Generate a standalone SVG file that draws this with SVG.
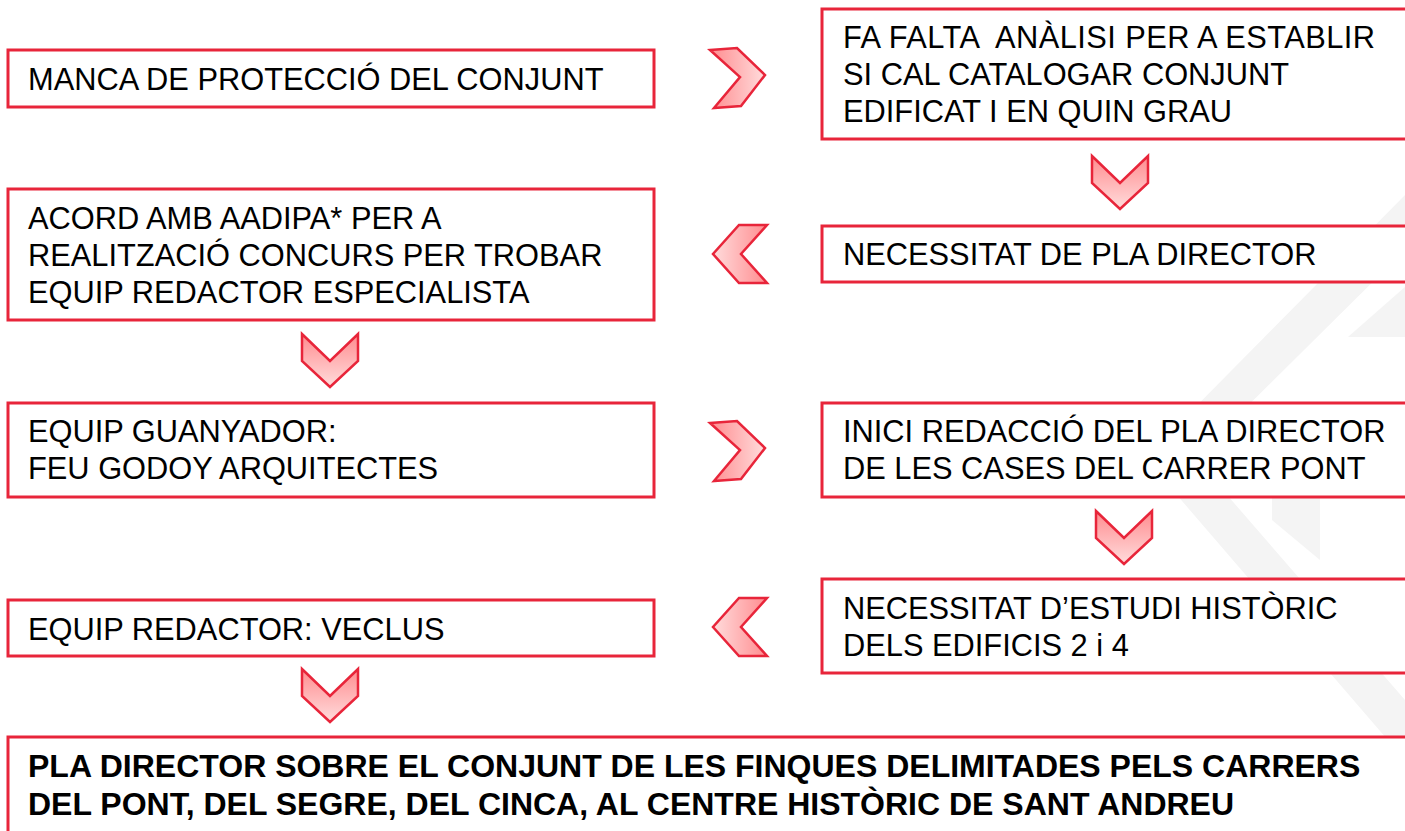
<svg xmlns="http://www.w3.org/2000/svg" width="1405" height="831" viewBox="0 0 1405 831">
<style>
.box{fill:#ffffff;stroke:#e8253a;stroke-width:3}
.t{font-family:"Liberation Sans",Arial,sans-serif;font-size:30.8px;fill:#000}
.b{font-family:"Liberation Sans",Arial,sans-serif;font-size:32px;font-weight:bold;fill:#000}
.chev{stroke:#e8253a;stroke-width:2.5;stroke-linejoin:miter}
.wm{fill:#f4f4f4}
</style>
<defs>
<linearGradient id="gR" x1="0" y1="0" x2="1" y2="0"><stop offset="0" stop-color="#ff8c8f"/><stop offset="1" stop-color="#ffdcdc"/></linearGradient>
<linearGradient id="gL" x1="1" y1="0" x2="0" y2="0"><stop offset="0" stop-color="#ff8c8f"/><stop offset="1" stop-color="#ffdcdc"/></linearGradient>
<linearGradient id="gD" x1="0" y1="0" x2="0" y2="1"><stop offset="0" stop-color="#ff8c8f"/><stop offset="1" stop-color="#ffdcdc"/></linearGradient>
</defs>
<rect width="1405" height="831" fill="#ffffff"/>
<g id="watermark">
<polygon class="wm" points="1405,195 1405,250 1195,458 1405,700 1405,760 1145,458"/>
<polygon class="wm" points="1348,337 1405,287 1405,337"/>
<polygon class="wm" points="1272,473 1320,473 1320,560 1272,520"/>
</g>
<g id="connectors">
<polygon class="chev" fill="url(#gR)" points="710,50 737,48 765,75 741,106 714,108 740,77"/>
<polygon class="chev" fill="url(#gD)" points="1092,156 1120,183 1148,156 1148,183 1120,209 1092,183"/>
<polygon class="chev" fill="url(#gL)" points="767,225 739,225 713,254 739,283 767,283 741,254"/>
<polygon class="chev" fill="url(#gD)" points="302,334 330,361 358,334 358,361 330,387 302,361"/>
<polygon class="chev" fill="url(#gR)" points="710,423 737,421 765,448 741,479 714,481 740,450"/>
<polygon class="chev" fill="url(#gD)" points="1096,511 1124,538 1152,511 1152,538 1124,564 1096,538"/>
<polygon class="chev" fill="url(#gL)" points="767,598 739,598 713,627 739,656 767,656 741,627"/>
<polygon class="chev" fill="url(#gD)" points="302,669 330,696 358,669 358,696 330,722 302,696"/>
</g>
<g id="n1"><rect class="box" x="8" y="50" width="646" height="57"/><text class="t" x="28" y="90">MANCA DE PROTECCIÓ DEL CONJUNT</text></g>
<g id="n2"><rect class="box" x="822" y="9" width="600" height="130"/><text class="t" x="843" y="48" style="white-space:pre" textLength="532">FA FALTA  ANÀLISI PER A ESTABLIR</text><text class="t" x="843" y="85">SI CAL CATALOGAR CONJUNT</text><text class="t" x="843" y="122">EDIFICAT I EN QUIN GRAU</text></g>
<g id="n3"><rect class="box" x="822" y="226" width="600" height="56"/><text class="t" x="843" y="265">NECESSITAT DE PLA DIRECTOR</text></g>
<g id="n4"><rect class="box" x="8" y="189" width="646" height="131"/><text class="t" x="28" y="229">ACORD AMB AADIPA* PER A</text><text class="t" x="28" y="266">REALITZACIÓ CONCURS PER TROBAR</text><text class="t" x="28" y="303">EQUIP REDACTOR ESPECIALISTA</text></g>
<g id="n5"><rect class="box" x="8" y="403" width="646" height="94"/><text class="t" x="28" y="442">EQUIP GUANYADOR:</text><text class="t" x="28" y="479">FEU GODOY ARQUITECTES</text></g>
<g id="n6"><rect class="box" x="822" y="403" width="600" height="94"/><text class="t" x="843" y="442">INICI REDACCIÓ DEL PLA DIRECTOR</text><text class="t" x="843" y="479">DE LES CASES DEL CARRER PONT</text></g>
<g id="n7"><rect class="box" x="822" y="579" width="600" height="94"/><text class="t" x="843" y="619">NECESSITAT D’ESTUDI HISTÒRIC</text><text class="t" x="843" y="656">DELS EDIFICIS 2 i 4</text></g>
<g id="n8"><rect class="box" x="8" y="600" width="646" height="56"/><text class="t" x="28" y="640">EQUIP REDACTOR: VECLUS</text></g>
<g id="n9"><rect class="box" x="8" y="737" width="1420" height="120"/><text class="b" x="28" y="777">PLA DIRECTOR SOBRE EL CONJUNT DE LES FINQUES DELIMITADES PELS CARRERS</text><text class="b" x="28" y="815">DEL PONT, DEL SEGRE, DEL CINCA, AL CENTRE HISTÒRIC DE SANT ANDREU</text></g>
</svg>
